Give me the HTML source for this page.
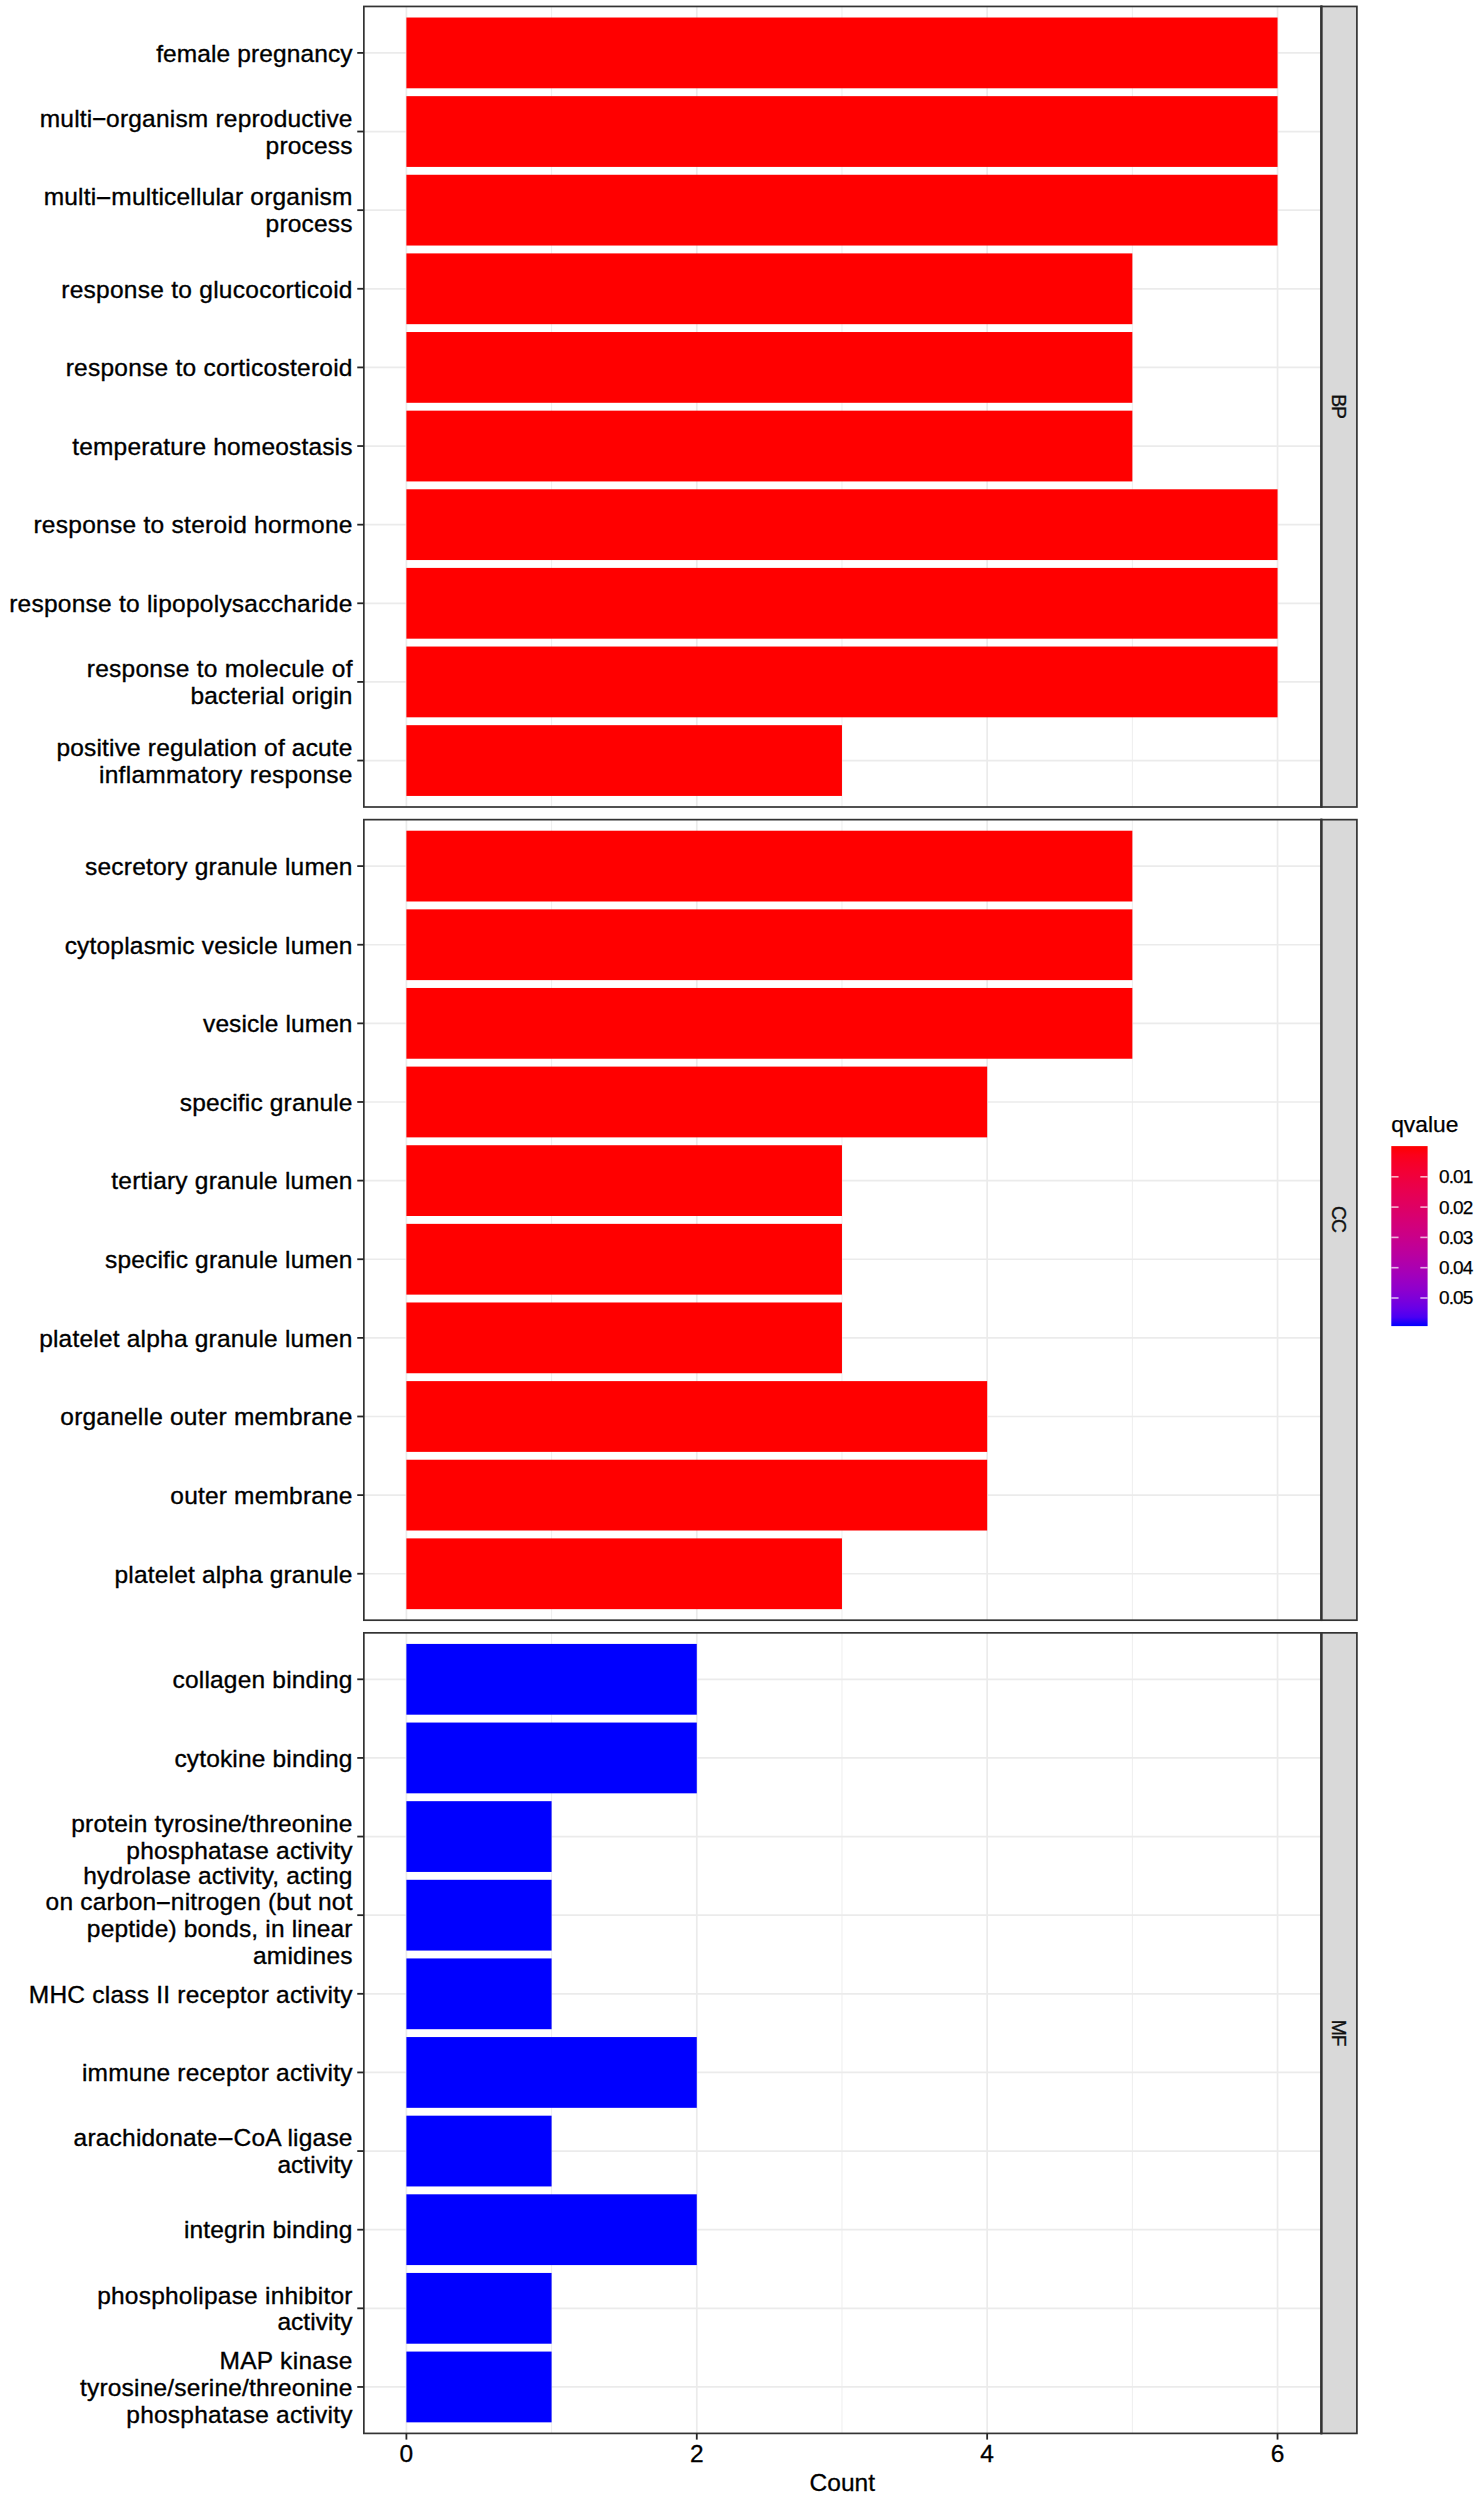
<!DOCTYPE html>
<html lang="en"><head><meta charset="utf-8"><title>GO enrichment barplot</title>
<style>
html,body{margin:0;padding:0;background:#fff;}
body{width:1484px;height:2500px;overflow:hidden;font-family:"Liberation Sans",Arial,sans-serif;}
svg{display:block;}
</style></head><body>
<svg width="1484" height="2500" viewBox="0 0 1484 2500" font-family="'Liberation Sans', Arial, Helvetica, sans-serif">
<rect width="1484" height="2500" fill="#fff"/>
<g class="panel">
<line x1="551.59" x2="551.59" y1="6.45" y2="807" stroke="#EBEBEB" stroke-width="0.85"/>
<line x1="841.97" x2="841.97" y1="6.45" y2="807" stroke="#EBEBEB" stroke-width="0.85"/>
<line x1="1132.35" x2="1132.35" y1="6.45" y2="807" stroke="#EBEBEB" stroke-width="0.85"/>
<line x1="406.4" x2="406.4" y1="6.45" y2="807" stroke="#EBEBEB" stroke-width="1.7"/>
<line x1="696.78" x2="696.78" y1="6.45" y2="807" stroke="#EBEBEB" stroke-width="1.7"/>
<line x1="987.16" x2="987.16" y1="6.45" y2="807" stroke="#EBEBEB" stroke-width="1.7"/>
<line x1="1277.54" x2="1277.54" y1="6.45" y2="807" stroke="#EBEBEB" stroke-width="1.7"/>
<line x1="363.85" x2="1321.4" y1="52.9" y2="52.9" stroke="#EBEBEB" stroke-width="1.7"/>
<line x1="363.85" x2="1321.4" y1="131.53" y2="131.53" stroke="#EBEBEB" stroke-width="1.7"/>
<line x1="363.85" x2="1321.4" y1="210.16" y2="210.16" stroke="#EBEBEB" stroke-width="1.7"/>
<line x1="363.85" x2="1321.4" y1="288.78" y2="288.78" stroke="#EBEBEB" stroke-width="1.7"/>
<line x1="363.85" x2="1321.4" y1="367.41" y2="367.41" stroke="#EBEBEB" stroke-width="1.7"/>
<line x1="363.85" x2="1321.4" y1="446.04" y2="446.04" stroke="#EBEBEB" stroke-width="1.7"/>
<line x1="363.85" x2="1321.4" y1="524.67" y2="524.67" stroke="#EBEBEB" stroke-width="1.7"/>
<line x1="363.85" x2="1321.4" y1="603.29" y2="603.29" stroke="#EBEBEB" stroke-width="1.7"/>
<line x1="363.85" x2="1321.4" y1="681.92" y2="681.92" stroke="#EBEBEB" stroke-width="1.7"/>
<line x1="363.85" x2="1321.4" y1="760.55" y2="760.55" stroke="#EBEBEB" stroke-width="1.7"/>
<rect x="406.4" y="17.52" width="871.14" height="70.77" fill="#FF0000"/>
<rect x="406.4" y="96.15" width="871.14" height="70.77" fill="#FF0000"/>
<rect x="406.4" y="174.77" width="871.14" height="70.77" fill="#FF0000"/>
<rect x="406.4" y="253.4" width="725.95" height="70.77" fill="#FF0000"/>
<rect x="406.4" y="332.03" width="725.95" height="70.77" fill="#FF0000"/>
<rect x="406.4" y="410.66" width="725.95" height="70.77" fill="#FF0000"/>
<rect x="406.4" y="489.28" width="871.14" height="70.77" fill="#FF0000"/>
<rect x="406.4" y="567.91" width="871.14" height="70.77" fill="#FF0000"/>
<rect x="406.4" y="646.54" width="871.14" height="70.77" fill="#FF0000"/>
<rect x="406.4" y="725.17" width="435.57" height="70.77" fill="#FF0000"/>
<rect x="363.85" y="6.45" width="957.55" height="800.55" fill="none" stroke="#333" stroke-width="1.7"/>
<rect x="1321.4" y="6.45" width="35.5" height="800.55" fill="#D9D9D9" stroke="#333" stroke-width="1.7"/>
<line x1="1321.4" x2="1321.4" y1="5.6" y2="807.85" stroke="#333" stroke-width="2.3"/>
<text transform="translate(1332,406.12) rotate(90)" text-anchor="middle" font-size="19.4" letter-spacing="-1.0" fill="#111" stroke="#111" stroke-width="0.3">BP</text>
<line x1="357.25" x2="363.85" y1="52.9" y2="52.9" stroke="#262626" stroke-width="1.8"/>
<text text-anchor="end" font-size="24.5" fill="#000" stroke="#000" stroke-width="0.35"><tspan x="352.61" y="61.7" letter-spacing="0.107">female pregnancy</tspan></text>
<line x1="357.25" x2="363.85" y1="131.53" y2="131.53" stroke="#262626" stroke-width="1.8"/>
<text text-anchor="end" font-size="24.5" fill="#000" stroke="#000" stroke-width="0.35"><tspan x="352.70" y="126.73" letter-spacing="0.200">multi<tspan dx="-1.3" dy="-1.5" textLength="16.26" lengthAdjust="spacingAndGlyphs">-</tspan><tspan dx="-1.3" dy="1.5">organism reproductive</tspan></tspan><tspan x="352.68" y="153.63" letter-spacing="0.183"> process</tspan></text>
<line x1="357.25" x2="363.85" y1="210.16" y2="210.16" stroke="#262626" stroke-width="1.8"/>
<text text-anchor="end" font-size="24.5" fill="#000" stroke="#000" stroke-width="0.35"><tspan x="352.70" y="205.36" letter-spacing="0.200">multi<tspan dx="-1.3" dy="-1.5" textLength="17.55" lengthAdjust="spacingAndGlyphs">-</tspan><tspan dx="-1.3" dy="1.5">multicellular organism</tspan></tspan><tspan x="352.68" y="232.26" letter-spacing="0.183"> process</tspan></text>
<line x1="357.25" x2="363.85" y1="288.78" y2="288.78" stroke="#262626" stroke-width="1.8"/>
<text text-anchor="end" font-size="24.5" fill="#000" stroke="#000" stroke-width="0.35"><tspan x="352.76" y="297.58" letter-spacing="0.264">response to glucocorticoid</tspan></text>
<line x1="357.25" x2="363.85" y1="367.41" y2="367.41" stroke="#262626" stroke-width="1.8"/>
<text text-anchor="end" font-size="24.5" fill="#000" stroke="#000" stroke-width="0.35"><tspan x="352.75" y="376.21" letter-spacing="0.252">response to corticosteroid</tspan></text>
<line x1="357.25" x2="363.85" y1="446.04" y2="446.04" stroke="#262626" stroke-width="1.8"/>
<text text-anchor="end" font-size="24.5" fill="#000" stroke="#000" stroke-width="0.35"><tspan x="352.67" y="454.84" letter-spacing="0.173">temperature homeostasis</tspan></text>
<line x1="357.25" x2="363.85" y1="524.67" y2="524.67" stroke="#262626" stroke-width="1.8"/>
<text text-anchor="end" font-size="24.5" fill="#000" stroke="#000" stroke-width="0.35"><tspan x="352.78" y="533.47" letter-spacing="0.277">response to steroid hormone</tspan></text>
<line x1="357.25" x2="363.85" y1="603.29" y2="603.29" stroke="#262626" stroke-width="1.8"/>
<text text-anchor="end" font-size="24.5" fill="#000" stroke="#000" stroke-width="0.35"><tspan x="352.74" y="612.09" letter-spacing="0.238">response to lipopolysaccharide</tspan></text>
<line x1="357.25" x2="363.85" y1="681.92" y2="681.92" stroke="#262626" stroke-width="1.8"/>
<text text-anchor="end" font-size="24.5" fill="#000" stroke="#000" stroke-width="0.35"><tspan x="352.75" y="677.12" letter-spacing="0.255">response to molecule of</tspan><tspan x="352.68" y="704.02" letter-spacing="0.180"> bacterial origin</tspan></text>
<line x1="357.25" x2="363.85" y1="760.55" y2="760.55" stroke="#262626" stroke-width="1.8"/>
<text text-anchor="end" font-size="24.5" fill="#000" stroke="#000" stroke-width="0.35"><tspan x="352.67" y="755.75" letter-spacing="0.170">positive regulation of acute</tspan><tspan x="352.79" y="782.65" letter-spacing="0.285"> inflammatory response</tspan></text>
</g>
<g class="panel">
<line x1="551.59" x2="551.59" y1="819.65" y2="1620.2" stroke="#EBEBEB" stroke-width="0.85"/>
<line x1="841.97" x2="841.97" y1="819.65" y2="1620.2" stroke="#EBEBEB" stroke-width="0.85"/>
<line x1="1132.35" x2="1132.35" y1="819.65" y2="1620.2" stroke="#EBEBEB" stroke-width="0.85"/>
<line x1="406.4" x2="406.4" y1="819.65" y2="1620.2" stroke="#EBEBEB" stroke-width="1.7"/>
<line x1="696.78" x2="696.78" y1="819.65" y2="1620.2" stroke="#EBEBEB" stroke-width="1.7"/>
<line x1="987.16" x2="987.16" y1="819.65" y2="1620.2" stroke="#EBEBEB" stroke-width="1.7"/>
<line x1="1277.54" x2="1277.54" y1="819.65" y2="1620.2" stroke="#EBEBEB" stroke-width="1.7"/>
<line x1="363.85" x2="1321.4" y1="866.1" y2="866.1" stroke="#EBEBEB" stroke-width="1.7"/>
<line x1="363.85" x2="1321.4" y1="944.73" y2="944.73" stroke="#EBEBEB" stroke-width="1.7"/>
<line x1="363.85" x2="1321.4" y1="1023.36" y2="1023.36" stroke="#EBEBEB" stroke-width="1.7"/>
<line x1="363.85" x2="1321.4" y1="1101.98" y2="1101.98" stroke="#EBEBEB" stroke-width="1.7"/>
<line x1="363.85" x2="1321.4" y1="1180.61" y2="1180.61" stroke="#EBEBEB" stroke-width="1.7"/>
<line x1="363.85" x2="1321.4" y1="1259.24" y2="1259.24" stroke="#EBEBEB" stroke-width="1.7"/>
<line x1="363.85" x2="1321.4" y1="1337.87" y2="1337.87" stroke="#EBEBEB" stroke-width="1.7"/>
<line x1="363.85" x2="1321.4" y1="1416.49" y2="1416.49" stroke="#EBEBEB" stroke-width="1.7"/>
<line x1="363.85" x2="1321.4" y1="1495.12" y2="1495.12" stroke="#EBEBEB" stroke-width="1.7"/>
<line x1="363.85" x2="1321.4" y1="1573.75" y2="1573.75" stroke="#EBEBEB" stroke-width="1.7"/>
<rect x="406.4" y="830.72" width="725.95" height="70.77" fill="#FF0000"/>
<rect x="406.4" y="909.35" width="725.95" height="70.77" fill="#FF0000"/>
<rect x="406.4" y="987.97" width="725.95" height="70.77" fill="#FF0000"/>
<rect x="406.4" y="1066.6" width="580.76" height="70.77" fill="#FF0000"/>
<rect x="406.4" y="1145.23" width="435.57" height="70.77" fill="#FF0000"/>
<rect x="406.4" y="1223.86" width="435.57" height="70.77" fill="#FF0000"/>
<rect x="406.4" y="1302.48" width="435.57" height="70.77" fill="#FF0000"/>
<rect x="406.4" y="1381.11" width="580.76" height="70.77" fill="#FF0000"/>
<rect x="406.4" y="1459.74" width="580.76" height="70.77" fill="#FF0000"/>
<rect x="406.4" y="1538.37" width="435.57" height="70.77" fill="#FF0000"/>
<rect x="363.85" y="819.65" width="957.55" height="800.55" fill="none" stroke="#333" stroke-width="1.7"/>
<rect x="1321.4" y="819.65" width="35.5" height="800.55" fill="#D9D9D9" stroke="#333" stroke-width="1.7"/>
<line x1="1321.4" x2="1321.4" y1="818.8" y2="1621.05" stroke="#333" stroke-width="2.3"/>
<text transform="translate(1332,1218.97) rotate(90)" text-anchor="middle" font-size="19.4" letter-spacing="-1.0" fill="#111" stroke="#111" stroke-width="0.3">CC</text>
<line x1="357.25" x2="363.85" y1="866.1" y2="866.1" stroke="#262626" stroke-width="1.8"/>
<text text-anchor="end" font-size="24.5" fill="#000" stroke="#000" stroke-width="0.35"><tspan x="352.71" y="874.9" letter-spacing="0.209">secretory granule lumen</tspan></text>
<line x1="357.25" x2="363.85" y1="944.73" y2="944.73" stroke="#262626" stroke-width="1.8"/>
<text text-anchor="end" font-size="24.5" fill="#000" stroke="#000" stroke-width="0.35"><tspan x="352.69" y="953.53" letter-spacing="0.192">cytoplasmic vesicle lumen</tspan></text>
<line x1="357.25" x2="363.85" y1="1023.36" y2="1023.36" stroke="#262626" stroke-width="1.8"/>
<text text-anchor="end" font-size="24.5" fill="#000" stroke="#000" stroke-width="0.35"><tspan x="352.58" y="1032.16" letter-spacing="0.083">vesicle lumen</tspan></text>
<line x1="357.25" x2="363.85" y1="1101.98" y2="1101.98" stroke="#262626" stroke-width="1.8"/>
<text text-anchor="end" font-size="24.5" fill="#000" stroke="#000" stroke-width="0.35"><tspan x="352.66" y="1110.78" letter-spacing="0.160">specific granule</tspan></text>
<line x1="357.25" x2="363.85" y1="1180.61" y2="1180.61" stroke="#262626" stroke-width="1.8"/>
<text text-anchor="end" font-size="24.5" fill="#000" stroke="#000" stroke-width="0.35"><tspan x="352.70" y="1189.41" letter-spacing="0.200">tertiary granule lumen</tspan></text>
<line x1="357.25" x2="363.85" y1="1259.24" y2="1259.24" stroke="#262626" stroke-width="1.8"/>
<text text-anchor="end" font-size="24.5" fill="#000" stroke="#000" stroke-width="0.35"><tspan x="352.68" y="1268.04" letter-spacing="0.176">specific granule lumen</tspan></text>
<line x1="357.25" x2="363.85" y1="1337.87" y2="1337.87" stroke="#262626" stroke-width="1.8"/>
<text text-anchor="end" font-size="24.5" fill="#000" stroke="#000" stroke-width="0.35"><tspan x="352.70" y="1346.67" letter-spacing="0.204">platelet alpha granule lumen</tspan></text>
<line x1="357.25" x2="363.85" y1="1416.49" y2="1416.49" stroke="#262626" stroke-width="1.8"/>
<text text-anchor="end" font-size="24.5" fill="#000" stroke="#000" stroke-width="0.35"><tspan x="352.71" y="1425.29" letter-spacing="0.209">organelle outer membrane</tspan></text>
<line x1="357.25" x2="363.85" y1="1495.12" y2="1495.12" stroke="#262626" stroke-width="1.8"/>
<text text-anchor="end" font-size="24.5" fill="#000" stroke="#000" stroke-width="0.35"><tspan x="352.69" y="1503.92" letter-spacing="0.185">outer membrane</tspan></text>
<line x1="357.25" x2="363.85" y1="1573.75" y2="1573.75" stroke="#262626" stroke-width="1.8"/>
<text text-anchor="end" font-size="24.5" fill="#000" stroke="#000" stroke-width="0.35"><tspan x="352.68" y="1582.55" letter-spacing="0.176">platelet alpha granule</tspan></text>
</g>
<g class="panel">
<line x1="551.59" x2="551.59" y1="1632.85" y2="2433.4" stroke="#EBEBEB" stroke-width="0.85"/>
<line x1="841.97" x2="841.97" y1="1632.85" y2="2433.4" stroke="#EBEBEB" stroke-width="0.85"/>
<line x1="1132.35" x2="1132.35" y1="1632.85" y2="2433.4" stroke="#EBEBEB" stroke-width="0.85"/>
<line x1="406.4" x2="406.4" y1="1632.85" y2="2433.4" stroke="#EBEBEB" stroke-width="1.7"/>
<line x1="696.78" x2="696.78" y1="1632.85" y2="2433.4" stroke="#EBEBEB" stroke-width="1.7"/>
<line x1="987.16" x2="987.16" y1="1632.85" y2="2433.4" stroke="#EBEBEB" stroke-width="1.7"/>
<line x1="1277.54" x2="1277.54" y1="1632.85" y2="2433.4" stroke="#EBEBEB" stroke-width="1.7"/>
<line x1="363.85" x2="1321.4" y1="1679.3" y2="1679.3" stroke="#EBEBEB" stroke-width="1.7"/>
<line x1="363.85" x2="1321.4" y1="1757.93" y2="1757.93" stroke="#EBEBEB" stroke-width="1.7"/>
<line x1="363.85" x2="1321.4" y1="1836.56" y2="1836.56" stroke="#EBEBEB" stroke-width="1.7"/>
<line x1="363.85" x2="1321.4" y1="1915.18" y2="1915.18" stroke="#EBEBEB" stroke-width="1.7"/>
<line x1="363.85" x2="1321.4" y1="1993.81" y2="1993.81" stroke="#EBEBEB" stroke-width="1.7"/>
<line x1="363.85" x2="1321.4" y1="2072.44" y2="2072.44" stroke="#EBEBEB" stroke-width="1.7"/>
<line x1="363.85" x2="1321.4" y1="2151.07" y2="2151.07" stroke="#EBEBEB" stroke-width="1.7"/>
<line x1="363.85" x2="1321.4" y1="2229.69" y2="2229.69" stroke="#EBEBEB" stroke-width="1.7"/>
<line x1="363.85" x2="1321.4" y1="2308.32" y2="2308.32" stroke="#EBEBEB" stroke-width="1.7"/>
<line x1="363.85" x2="1321.4" y1="2386.95" y2="2386.95" stroke="#EBEBEB" stroke-width="1.7"/>
<rect x="406.4" y="1643.92" width="290.38" height="70.77" fill="#0000FF"/>
<rect x="406.4" y="1722.55" width="290.38" height="70.77" fill="#0000FF"/>
<rect x="406.4" y="1801.17" width="145.19" height="70.77" fill="#0000FF"/>
<rect x="406.4" y="1879.8" width="145.19" height="70.77" fill="#0000FF"/>
<rect x="406.4" y="1958.43" width="145.19" height="70.77" fill="#0000FF"/>
<rect x="406.4" y="2037.06" width="290.38" height="70.77" fill="#0000FF"/>
<rect x="406.4" y="2115.68" width="145.19" height="70.77" fill="#0000FF"/>
<rect x="406.4" y="2194.31" width="290.38" height="70.77" fill="#0000FF"/>
<rect x="406.4" y="2272.94" width="145.19" height="70.77" fill="#0000FF"/>
<rect x="406.4" y="2351.57" width="145.19" height="70.77" fill="#0000FF"/>
<rect x="363.85" y="1632.85" width="957.55" height="800.55" fill="none" stroke="#333" stroke-width="1.7"/>
<rect x="1321.4" y="1632.85" width="35.5" height="800.55" fill="#D9D9D9" stroke="#333" stroke-width="1.7"/>
<line x1="1321.4" x2="1321.4" y1="1632" y2="2434.25" stroke="#333" stroke-width="2.3"/>
<text transform="translate(1332,2032.67) rotate(90)" text-anchor="middle" font-size="19.4" letter-spacing="-1.0" fill="#111" stroke="#111" stroke-width="0.3">MF</text>
<line x1="357.25" x2="363.85" y1="1679.3" y2="1679.3" stroke="#262626" stroke-width="1.8"/>
<text text-anchor="end" font-size="24.5" fill="#000" stroke="#000" stroke-width="0.35"><tspan x="352.69" y="1688.1" letter-spacing="0.193">collagen binding</tspan></text>
<line x1="357.25" x2="363.85" y1="1757.93" y2="1757.93" stroke="#262626" stroke-width="1.8"/>
<text text-anchor="end" font-size="24.5" fill="#000" stroke="#000" stroke-width="0.35"><tspan x="352.66" y="1766.73" letter-spacing="0.160">cytokine binding</tspan></text>
<line x1="357.25" x2="363.85" y1="1836.56" y2="1836.56" stroke="#262626" stroke-width="1.8"/>
<text text-anchor="end" font-size="24.5" fill="#000" stroke="#000" stroke-width="0.35"><tspan x="352.69" y="1831.76" letter-spacing="0.192">protein tyrosine/threonine</tspan><tspan x="352.72" y="1858.66" letter-spacing="0.221"> phosphatase activity</tspan></text>
<line x1="357.25" x2="363.85" y1="1915.18" y2="1915.18" stroke="#262626" stroke-width="1.8"/>
<text text-anchor="end" font-size="24.5" fill="#000" stroke="#000" stroke-width="0.35"><tspan x="352.66" y="1883.53" letter-spacing="0.164">hydrolase activity, acting</tspan><tspan x="352.70" y="1910.43" letter-spacing="0.200"> on carbon<tspan dx="-1.3" dy="-1.5" textLength="17.07" lengthAdjust="spacingAndGlyphs">-</tspan><tspan dx="-1.3" dy="1.5">nitrogen (but not</tspan></tspan><tspan x="352.67" y="1937.33" letter-spacing="0.171"> peptide) bonds, in linear</tspan><tspan x="352.70" y="1964.23" letter-spacing="0.200"> amidines</tspan></text>
<line x1="357.25" x2="363.85" y1="1993.81" y2="1993.81" stroke="#262626" stroke-width="1.8"/>
<text text-anchor="end" font-size="24.5" fill="#000" stroke="#000" stroke-width="0.35"><tspan x="352.72" y="2002.61" letter-spacing="0.224">MHC class II receptor activity</tspan></text>
<line x1="357.25" x2="363.85" y1="2072.44" y2="2072.44" stroke="#262626" stroke-width="1.8"/>
<text text-anchor="end" font-size="24.5" fill="#000" stroke="#000" stroke-width="0.35"><tspan x="352.72" y="2081.24" letter-spacing="0.222">immune receptor activity</tspan></text>
<line x1="357.25" x2="363.85" y1="2151.07" y2="2151.07" stroke="#262626" stroke-width="1.8"/>
<text text-anchor="end" font-size="24.5" fill="#000" stroke="#000" stroke-width="0.35"><tspan x="352.70" y="2146.27" letter-spacing="0.200">arachidonate<tspan dx="-1.3" dy="-1.5" textLength="18.46" lengthAdjust="spacingAndGlyphs">-</tspan><tspan dx="-1.3" dy="1.5">CoA ligase</tspan></tspan><tspan x="352.53" y="2173.17" letter-spacing="0.029"> activity</tspan></text>
<line x1="357.25" x2="363.85" y1="2229.69" y2="2229.69" stroke="#262626" stroke-width="1.8"/>
<text text-anchor="end" font-size="24.5" fill="#000" stroke="#000" stroke-width="0.35"><tspan x="352.66" y="2238.49" letter-spacing="0.160">integrin binding</tspan></text>
<line x1="357.25" x2="363.85" y1="2308.32" y2="2308.32" stroke="#262626" stroke-width="1.8"/>
<text text-anchor="end" font-size="24.5" fill="#000" stroke="#000" stroke-width="0.35"><tspan x="352.71" y="2303.52" letter-spacing="0.214">phospholipase inhibitor</tspan><tspan x="352.53" y="2330.42" letter-spacing="0.029"> activity</tspan></text>
<line x1="357.25" x2="363.85" y1="2386.95" y2="2386.95" stroke="#262626" stroke-width="1.8"/>
<text text-anchor="end" font-size="24.5" fill="#000" stroke="#000" stroke-width="0.35"><tspan x="352.81" y="2368.95" letter-spacing="0.311">MAP kinase</tspan><tspan x="352.67" y="2395.85" letter-spacing="0.171"> tyrosine/serine/threonine</tspan><tspan x="352.72" y="2422.75" letter-spacing="0.221"> phosphatase activity</tspan></text>
</g>
<line x1="406.4" x2="406.4" y1="2433.4" y2="2439.6" stroke="#262626" stroke-width="1.8"/>
<text x="406.4" y="2462.2" text-anchor="middle" font-size="24.5" fill="#000" stroke="#000" stroke-width="0.3">0</text>
<line x1="696.78" x2="696.78" y1="2433.4" y2="2439.6" stroke="#262626" stroke-width="1.8"/>
<text x="696.78" y="2462.2" text-anchor="middle" font-size="24.5" fill="#000" stroke="#000" stroke-width="0.3">2</text>
<line x1="987.16" x2="987.16" y1="2433.4" y2="2439.6" stroke="#262626" stroke-width="1.8"/>
<text x="987.16" y="2462.2" text-anchor="middle" font-size="24.5" fill="#000" stroke="#000" stroke-width="0.3">4</text>
<line x1="1277.54" x2="1277.54" y1="2433.4" y2="2439.6" stroke="#262626" stroke-width="1.8"/>
<text x="1277.54" y="2462.2" text-anchor="middle" font-size="24.5" fill="#000" stroke="#000" stroke-width="0.3">6</text>
<text x="842.3" y="2491.4" text-anchor="middle" font-size="24.5" fill="#000" stroke="#000" stroke-width="0.3">Count</text>
<defs><linearGradient id="qg" x1="0" y1="0" x2="0" y2="1"><stop offset="0%" stop-color="#FF0000"/><stop offset="5%" stop-color="#FB001A"/><stop offset="10%" stop-color="#F6002A"/><stop offset="15%" stop-color="#F20037"/><stop offset="20%" stop-color="#ED0044"/><stop offset="25%" stop-color="#E80050"/><stop offset="30%" stop-color="#E3005B"/><stop offset="35%" stop-color="#DD0066"/><stop offset="40%" stop-color="#D70072"/><stop offset="45%" stop-color="#D1007D"/><stop offset="50%" stop-color="#CA0088"/><stop offset="55%" stop-color="#C20094"/><stop offset="60%" stop-color="#BA009F"/><stop offset="65%" stop-color="#B000AB"/><stop offset="70%" stop-color="#A600B7"/><stop offset="75%" stop-color="#9A00C3"/><stop offset="80%" stop-color="#8D00CE"/><stop offset="85%" stop-color="#7C00DA"/><stop offset="90%" stop-color="#6800E7"/><stop offset="95%" stop-color="#4B00F3"/><stop offset="100%" stop-color="#0000FF"/></linearGradient></defs>
<text x="1391.2" y="1132.4" font-size="22.8" fill="#000" stroke="#000" stroke-width="0.25">qvalue</text>
<rect x="1391.3" y="1146.1" width="36.3" height="180" fill="url(#qg)"/>
<line x1="1391.3" x2="1398.56" y1="1176.8" y2="1176.8" stroke="#fff" stroke-opacity="0.7" stroke-width="1.6"/>
<line x1="1420.34" x2="1427.6" y1="1176.8" y2="1176.8" stroke="#fff" stroke-opacity="0.7" stroke-width="1.6"/>
 <text x="1439.1" y="1183.25" font-size="19" letter-spacing="-0.95" fill="#000" stroke="#000" stroke-width="0.25">0.01</text>
<line x1="1391.3" x2="1398.56" y1="1207.1" y2="1207.1" stroke="#fff" stroke-opacity="0.7" stroke-width="1.6"/>
<line x1="1420.34" x2="1427.6" y1="1207.1" y2="1207.1" stroke="#fff" stroke-opacity="0.7" stroke-width="1.6"/>
 <text x="1439.1" y="1213.55" font-size="19" letter-spacing="-0.95" fill="#000" stroke="#000" stroke-width="0.25">0.02</text>
<line x1="1391.3" x2="1398.56" y1="1237.4" y2="1237.4" stroke="#fff" stroke-opacity="0.7" stroke-width="1.6"/>
<line x1="1420.34" x2="1427.6" y1="1237.4" y2="1237.4" stroke="#fff" stroke-opacity="0.7" stroke-width="1.6"/>
 <text x="1439.1" y="1243.85" font-size="19" letter-spacing="-0.95" fill="#000" stroke="#000" stroke-width="0.25">0.03</text>
<line x1="1391.3" x2="1398.56" y1="1267.7" y2="1267.7" stroke="#fff" stroke-opacity="0.7" stroke-width="1.6"/>
<line x1="1420.34" x2="1427.6" y1="1267.7" y2="1267.7" stroke="#fff" stroke-opacity="0.7" stroke-width="1.6"/>
 <text x="1439.1" y="1274.15" font-size="19" letter-spacing="-0.95" fill="#000" stroke="#000" stroke-width="0.25">0.04</text>
<line x1="1391.3" x2="1398.56" y1="1298" y2="1298" stroke="#fff" stroke-opacity="0.7" stroke-width="1.6"/>
<line x1="1420.34" x2="1427.6" y1="1298" y2="1298" stroke="#fff" stroke-opacity="0.7" stroke-width="1.6"/>
 <text x="1439.1" y="1304.45" font-size="19" letter-spacing="-0.95" fill="#000" stroke="#000" stroke-width="0.25">0.05</text>
</svg>
</body></html>
